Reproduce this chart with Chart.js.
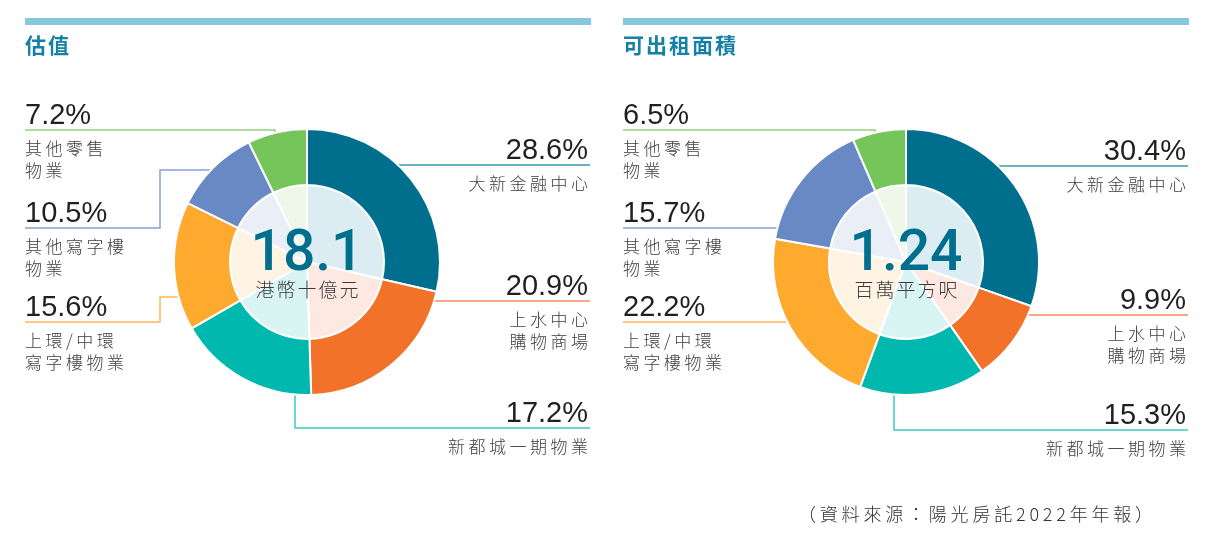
<!DOCTYPE html>
<html>
<head>
<meta charset="utf-8">
<script src="https://cdn.jsdelivr.net/npm/chart.js@4"></script>
<style>
  html, body { margin: 0; padding: 0; background: #fff; }
  body { width: 1220px; height: 538px; position: relative; overflow: hidden; }
  .panel { position: absolute; top: 0; }
</style>
</head>
<body>
<div class="panel" style="left:0"><canvas id="valuation" width="610" height="538"></canvas></div>
<div class="panel" style="left:598px"><canvas id="area" width="622" height="538"></canvas></div>
<script>
// categories, clockwise from 12 o'clock
const categories = ['大新金融中心', '上水中心購物商場', '新都城一期物業', '上環/中環寫字樓物業', '其他寫字樓物業', '其他零售物業'];
const categoryLines = [['大新金融中心'], ['上水中心', '購物商場'], ['新都城一期物業'], ['上環/中環', '寫字樓物業'], ['其他寫字樓', '物業'], ['其他零售', '物業']];

// share of valuation (%) and of lettable area (%)
const valuationShare = [28.6, 20.9, 17.2, 15.6, 10.5, 7.2];
const areaShare = [30.4, 9.9, 15.3, 22.2, 15.7, 6.5];

const valuationTotal = '18.1';
const valuationUnit = '港幣十億元';
const areaTotal = '1.24';
const areaUnit = '百萬平方呎';

const source = '（資料來源：陽光房託2022年年報）';

// colours
const ringColors = ['#006f8e', '#f2722a', '#00b8ad', '#fdaa2f', '#6889c4', '#75c55b'];
const innerColors = ['#dbecf2', '#fde9e2', '#d8f4f3', '#fff4e4', '#eaeff7', '#eef7ea'];
const leaderColors = ['#3b97ab', '#f48a5a', '#38cbc4', '#fdb955', '#8aa1d1', '#95d17e'];

// label routing (layout only): side of text, y of leader line, how the line reaches the ring
const valuationRoutes = [
  { side: 'R', lineY: 165, type: 'h' },
  { side: 'R', lineY: 301, type: 'h' },
  { side: 'R', lineY: 428, type: 'v', ax: -12 },
  { side: 'L', lineY: 322, type: 'hv', ay: 35, elbow: 160 },
  { side: 'L', lineY: 228, type: 'hv', ay: -92, elbow: 160 },
  { side: 'L', lineY: 130, type: 'v', ax: -32 }
];
const areaRoutes = [
  { side: 'R', lineY: 166, type: 'h' },
  { side: 'R', lineY: 315, type: 'h' },
  { side: 'R', lineY: 430, type: 'v', ax: -12 },
  { side: 'L', lineY: 322, type: 'h' },
  { side: 'L', lineY: 228, type: 'h' },
  { side: 'L', lineY: 130, type: 'v', ax: -31 }
];

const NUM_FONT = '"Liberation Sans", Arial, sans-serif';
const BIG_FONT = 'Roboto, "Liberation Sans", sans-serif';
const CJK_FONT = '"Noto Sans CJK TC", "Noto Sans CJK SC", sans-serif';
const TEXT_L = 25, TEXT_R = 590;

function drawSpaced(ctx, text, x, y, align, spacing) {
  ctx.letterSpacing = spacing + 'px';
  ctx.textAlign = align;
  // trailing spacing is added after last glyph, compensate
  let dx = 0;
  if (align === 'right') dx = spacing;
  else if (align === 'center') dx = spacing / 2;
  ctx.fillText(text, x + dx, y);
  ctx.letterSpacing = '0px';
}

const leaderPlugin = {
  id: 'leaders',
  beforeDatasetsDraw(chart, args, opts) {
    const ctx = chart.ctx;
    const arcs = chart.getDatasetMeta(0).data;
    ctx.save();
    ctx.lineWidth = 1.5;
    opts.routes.forEach((r, i) => {
      const arc = arcs[i];
      const cx = arc.x, cy = arc.y, R = arc.outerRadius - 1;
      const edge = r.side === 'R' ? TEXT_R : TEXT_L;
      ctx.strokeStyle = leaderColors[i];
      ctx.beginPath();
      if (r.type === 'h') {
        const dy = r.lineY - cy;
        const dx = Math.sqrt(Math.max(R * R - dy * dy, 0));
        ctx.moveTo(edge, r.lineY);
        ctx.lineTo(r.side === 'R' ? cx + dx : cx - dx, r.lineY);
      } else if (r.type === 'hv') {
        const ay = cy + r.ay;
        const ax = cx - Math.sqrt(R * R - r.ay * r.ay);
        ctx.moveTo(edge, r.lineY);
        ctx.lineTo(r.elbow, r.lineY);
        ctx.lineTo(r.elbow, ay);
        ctx.lineTo(ax + 6, ay);
      } else {
        const ax = cx + r.ax;
        const h = Math.sqrt(R * R - r.ax * r.ax);
        const ay = r.lineY < cy ? cy - h + 4 : cy + h - 4;
        ctx.moveTo(edge, r.lineY);
        ctx.lineTo(ax, r.lineY);
        ctx.lineTo(ax, ay);
      }
      ctx.stroke();
    });
    ctx.restore();
  },
  afterDraw(chart, args, opts) {
    const ctx = chart.ctx;
    const arc = chart.getDatasetMeta(0).data[0];
    const cx = arc.x, cy = arc.y;
    ctx.save();

    // header bar and title
    ctx.fillStyle = '#86c8dc';
    ctx.fillRect(25, 18, 566, 7);
    ctx.fillStyle = '#1581a6';
    ctx.font = 'bold 21px ' + CJK_FONT;
    drawSpaced(ctx, opts.title, 25, 53, 'left', 2);

    // centre figure
    ctx.fillStyle = '#006f8e';
    ctx.font = '500 57px ' + BIG_FONT;
    ctx.textAlign = 'center';
    ctx.fillText(opts.total, cx, 270);
    ctx.fillStyle = '#3a3a3a';
    ctx.font = '300 19px ' + CJK_FONT;
    drawSpaced(ctx, opts.unit, cx, 297, 'center', 2);

    // labels
    opts.routes.forEach((r, i) => {
      const align = r.side === 'R' ? 'right' : 'left';
      const x = r.side === 'R' ? TEXT_R - 2 : TEXT_L;
      ctx.fillStyle = '#231f20';
      ctx.font = '29px ' + NUM_FONT;
      ctx.textAlign = align;
      ctx.fillText(opts.values[i].toFixed(1) + '%', x, r.lineY - 6);
      ctx.fillStyle = '#3d3d3d';
      ctx.font = '300 17px ' + CJK_FONT;
      categoryLines[i].forEach((t, k) => {
        drawSpaced(ctx, t, x, r.lineY + 25 + k * 22, align, 3.5);
      });
    });

    if (opts.footer) {
      ctx.fillStyle = '#333';
      ctx.font = '300 18px ' + CJK_FONT;
      drawSpaced(ctx, opts.footer, 200, 521, 'left', 3.8);
    }
    ctx.restore();
  }
};

function makeChart(id, values, total, unit, title, routes, centerX, footer) {
  const size = 268;
  const canvas = document.getElementById(id);
  const left = centerX - size / 2;
  const top = 262 - size / 2;
  return new Chart(canvas, {
    type: 'doughnut',
    data: {
      labels: categories,
      datasets: [
        { data: values, backgroundColor: ringColors, borderColor: '#fff', borderWidth: 2, weight: 56 },
        { data: values, backgroundColor: innerColors, borderColor: '#fff', borderWidth: 2, weight: 77 }
      ]
    },
    options: {
      responsive: false,
      animation: false,
      events: [],
      cutout: 0,
      layout: { padding: { left: left, top: top, right: canvas.width - left - size, bottom: 538 - top - size } },
      plugins: {
        legend: { display: false },
        tooltip: { enabled: false },
        leaders: { routes, values, total, unit, title, footer }
      }
    },
    plugins: [leaderPlugin]
  });
}

makeChart('valuation', valuationShare, valuationTotal, valuationUnit, '估值', valuationRoutes, 307, null);
makeChart('area', areaShare, areaTotal, areaUnit, '可出租面積', areaRoutes, 308, source);
</script>
</body>
</html>
